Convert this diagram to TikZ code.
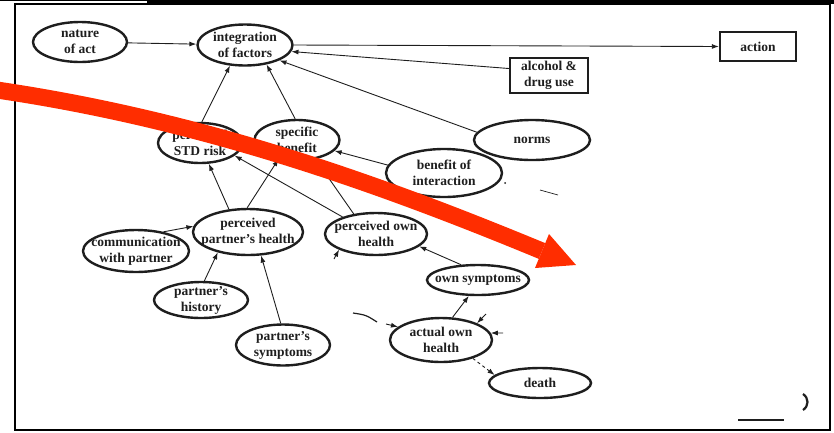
\documentclass[tikz,border=0pt]{standalone}
\usepackage{fontspec}
\setmainfont{Liberation Serif}
\usetikzlibrary{shapes.geometric,arrows.meta}
\definecolor{ink}{HTML}{1E1E1E}
\definecolor{marker}{HTML}{FF2D00}
\tikzset{
  ell/.style 2 args={ellipse, draw=ink, line width=2.4pt, inner sep=0pt,
    minimum width=#1pt, minimum height=#2pt},
  boxnode/.style 2 args={rectangle, draw=ink, line width=2.4pt, inner sep=0pt,
    minimum width=#1pt, minimum height=#2pt},
  lbl/.style={font=\fontsize{13.5}{16}\selectfont\bfseries, text=ink,
    align=center, inner sep=0pt},
  conn/.style={draw=ink, line width=0.9pt, -{Latex[length=7pt,width=5pt]}},
  trace/.style={draw=ink, line width=0.9pt},
}
\begin{document}
\begin{tikzpicture}[x=1pt, y=-1pt]
\useasboundingbox (0,0) rectangle (834,432);

% sheet frame
\draw[black, line width=2pt] (15,4) rectangle (830,430);
\fill[black] (147,0) rectangle (834,4);
\draw[black, line width=1pt] (0,0.5) -- (147,0.5);

% factors
\node[ell={94}{40}, label={[name=nature-t, lbl]center:{nature\\of act}}] (nature) at (80,42) {};
\node[ell={95}{41}, label={[name=integ-t, lbl]center:{integration\\of factors}}] (integ) at (245,45) {};
\node[boxnode={76}{29}, label={[name=action-t, lbl]center:{action}}] (action) at (758,46.5) {};
\node[boxnode={78}{35}, label={[name=alcohol-t, lbl]center:{alcohol \&\\drug use}}] (alcohol) at (549,75.5) {};
\node[ell={116}{40}, label={[name=norms-t, lbl]center:{norms}}] (norms) at (532,140) {};
\node[ell={116}{48}, label={[name=bint-t, lbl]center:{benefit of\\interaction}}] (bint) at (444,173) {};
\node[ell={84}{40}, label={[name=risk-t, lbl]center:{perceived\\STD risk}}] (risk) at (200,143) {};
\node[ell={85}{40}, label={[name=spec-t, lbl]center:{specific\\benefit}}] (spec) at (297,140) {};
\node[ell={110}{46}, label={[name=ppart-t, lbl]center:{perceived\\partner’s health}}] (ppart) at (248,232) {};
\node[ell={102}{42}, label={[name=pown-t, lbl]center:{perceived own\\health}}] (pown) at (376,234) {};
\node[ell={106}{42}, label={[name=comm-t, lbl]center:{communication\\with partner}}] (comm) at (136,251) {};
\node[ell={94}{36}, label={[name=phist-t, lbl]center:{partner’s\\history}}] (phist) at (201,300) {};
\node[ell={94}{41}, label={[name=psym-t, lbl]center:{partner’s\\symptoms}}] (psym) at (283,345) {};
\node[ell={102}{30}, label={[name=osym-t, lbl]center:{own symptoms}}] (osym) at (478,280) {};
\node[ell={102}{44}, label={[name=actual-t, lbl]center:{actual own\\health}}] (actual) at (441,340) {};
\node[ell={102}{30}, label={[name=death-t, lbl]center:{death}}] (death) at (540,383) {};

% influences
\draw[conn] (nature) -- (integ);
\draw[conn] (integ.east) -- (action.west);
\draw[conn] ([yshift=7pt]alcohol.west) -- (integ.-8);
\draw[conn] (norms.172) -- (integ.-24);
\draw[conn] (risk.85) -- (integ.-126);
\draw[conn] (spec.95) -- (integ.-42);
\draw[conn] (bint.172) -- (spec.-16);
\draw[conn] (ppart.130) -- (risk.-67);
\draw[conn] (ppart.92) -- (spec.-134);
\draw[conn] (pown.153) -- (risk.-20);
\draw[conn] (pown.138) -- (spec.-46);
\draw[conn] (comm.35) -- (ppart.174);
\draw[conn] (phist.80) -- (ppart.-146);
\draw[conn] (psym.96) -- (ppart.-61);
\draw[conn] (osym.138) -- (pown.-16);
\draw[conn] (actual.63) -- (osym.-120);
\draw[conn, dashed] (actual.-30) -- (death.170);

% leftover ends of removed links
\coordinate (st1) at (334,259);
\coordinate (st2) at (386,324);
\coordinate (st3) at (486,314);
\coordinate (st4) at (503,333);
\coordinate (cf1) at (353,313);
\coordinate (cf2) at (377,322);
\coordinate (lf1) at (540,190);
\coordinate (lf2) at (558,195);
\draw[conn] (st1) -- (pown.-157);
\draw[conn] (st2) -- (actual.163);
\draw[conn] (st3) -- (actual.25);
\draw[conn] (st4) -- (actual.8);
\draw[trace, line width=1.2pt] (cf1) .. controls (366,315) .. (cf2);
\draw[trace, line width=0.7pt] (lf1) -- (lf2);
\fill[ink] (505,183) circle (1pt);
\draw[ink, line width=2.2pt] (803,394) .. controls (809,398) and (809,406) .. (803,410);
\draw[ink, line width=2pt] (738,420) -- (784,420);

% red marker stroke
\draw[marker, line width=17pt] (-10,89) .. controls (200,119) and (380,184) .. (542,251);
\fill[marker] (549,234) -- (576,265) -- (535,268) -- cycle;
\end{tikzpicture}
\end{document}
